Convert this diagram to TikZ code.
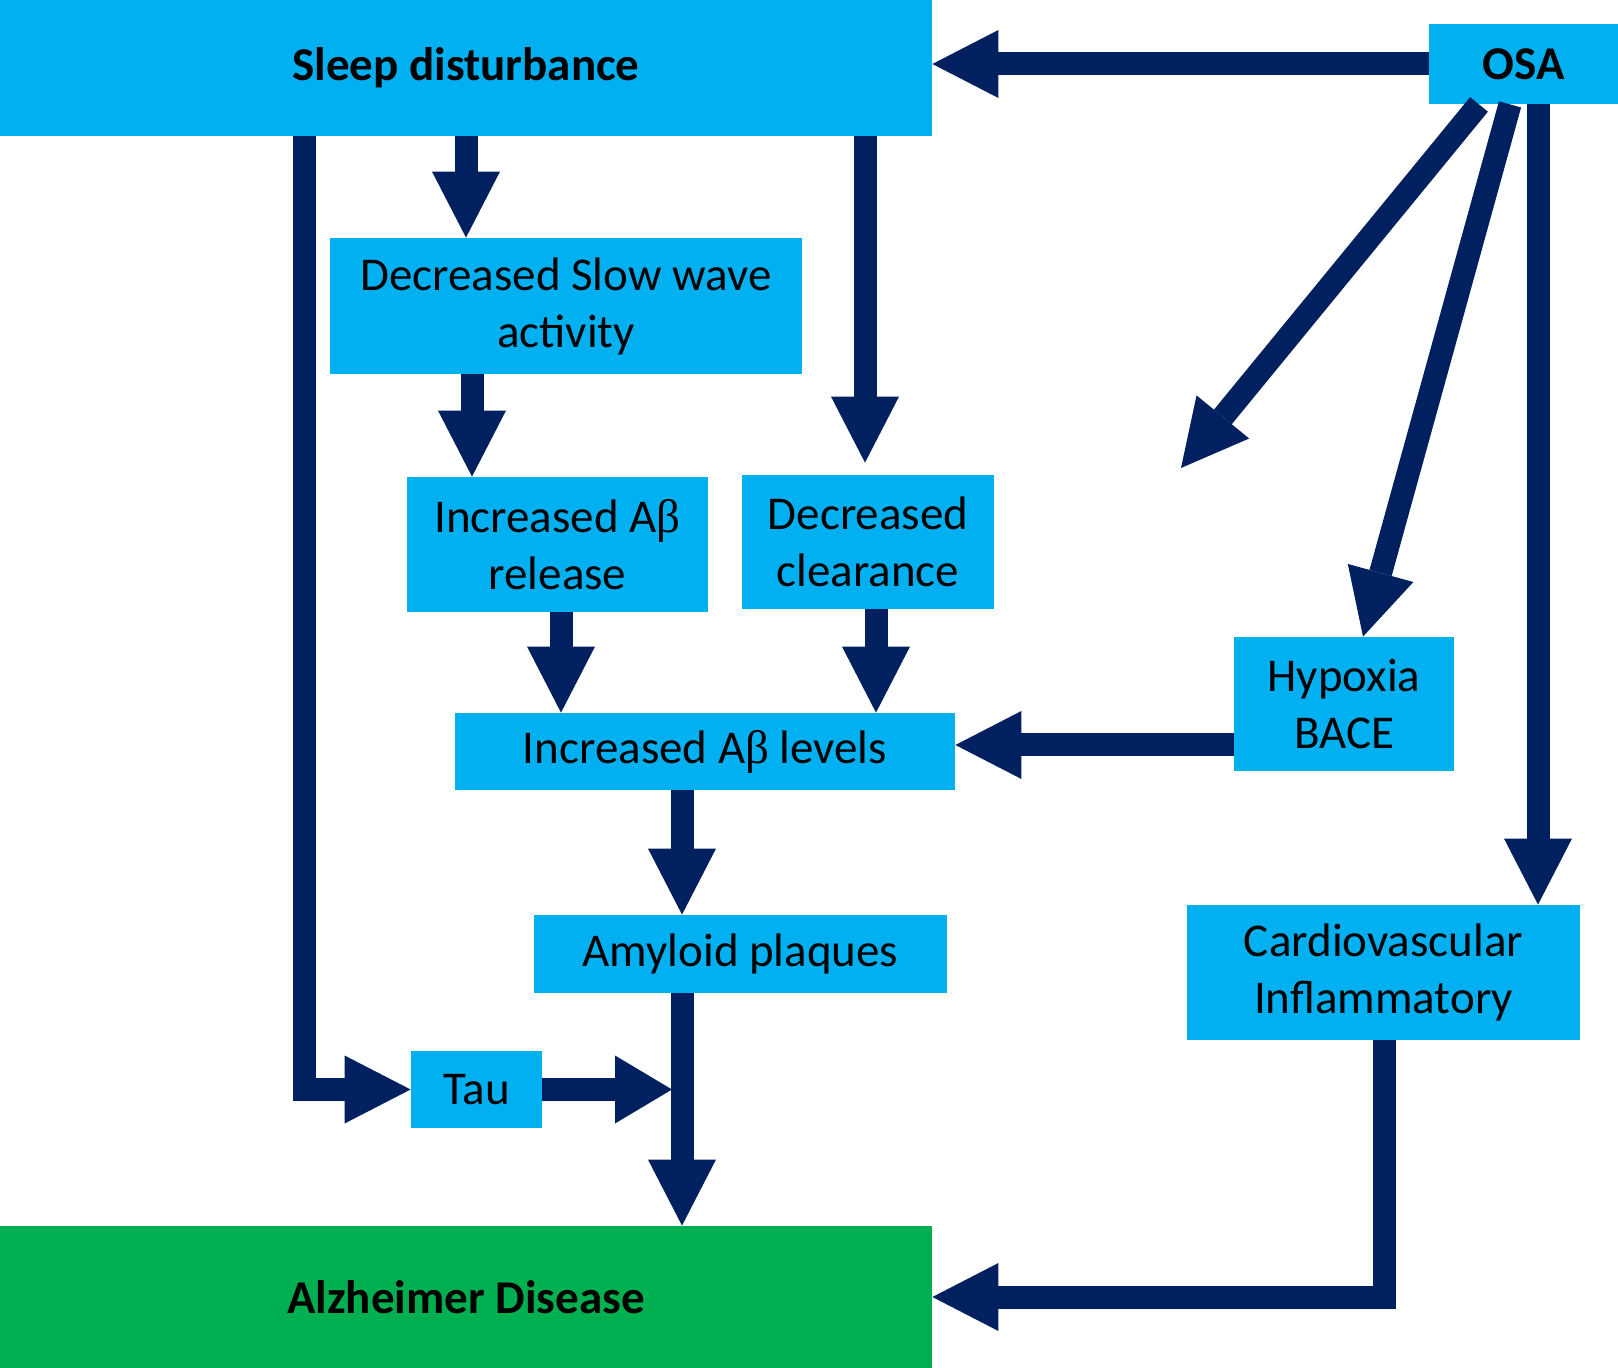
\documentclass[tikz,border=0pt]{standalone}
\usepackage{fontspec}
\setmainfont{Carlito}
\newfontfamily\grk{Liberation Serif}
\usetikzlibrary{arrows.meta}
\definecolor{boxblue}{HTML}{00B0F0}
\definecolor{adgreen}{HTML}{00B050}
\definecolor{navy}{HTML}{002060}
\newcommand{\Abeta}{A{\grk β}}
\begin{document}
\begin{tikzpicture}[x=0.5pt,y=-0.5pt,
  box/.style={fill=boxblue, draw=none, inner sep=0pt, align=center, text=black,
    font=\fontsize{23.5pt}{28.5pt}\selectfont},
  bbox/.style={box, font=\fontsize{23.5pt}{28.5pt}\selectfont\bfseries},
  conn/.style={draw=navy, line width=11.5pt, line join=miter,
    -{Triangle[length=33pt,width=34pt,line width=0pt]}},
  shortconn/.style={draw=navy, line width=11.5pt, line join=miter,
    -{Triangle[length=28.5pt,width=34pt,line width=0pt]}}
]
\useasboundingbox (0,0) rectangle (1618,1368);

% boxes
\node[bbox, minimum width=466pt, minimum height=68pt] (sleep) at (466,68) {Sleep disturbance};
\node[bbox, minimum width=94.5pt, minimum height=40pt] (osa) at (1523.5,64) {OSA};
\node[box, minimum width=236pt, minimum height=68pt] (sws) at (566,306) {Decreased Slow wave\\activity};
\node[box, minimum width=150.5pt, minimum height=67.5pt] (rel) at (557.5,544.5) {Increased \Abeta\\release};
\node[box, minimum width=126pt, minimum height=67pt] (clr) at (868,542) {Decreased\\clearance};
\node[box, minimum width=250pt, minimum height=38.5pt] (lev) at (705,751.5) {Increased \Abeta{} levels};
\node[box, minimum width=110pt, minimum height=67pt] (hyp) at (1344,704) {Hypoxia\\BACE};
\node[box, minimum width=206.5pt, minimum height=39pt] (amy) at (740.5,954) {Amyloid plaques};
\node[box, minimum width=196.5pt, minimum height=67.5pt] (cv) at (1383.5,972.5) {Cardiovascular\\Inflammatory};
\node[box, minimum width=65.5pt, minimum height=38.5pt] (tau) at (476.5,1089.5) {Tau};
\node[bbox, fill=adgreen, minimum width=466pt, minimum height=71pt] (ad) at (466,1297) {Alzheimer Disease};

% helper columns / rows
\coordinate (c304) at (304,0);
\coordinate (c472) at (472,0);
\coordinate (c561) at (561,0);
\coordinate (c682) at (682,0);
\coordinate (c865) at (865,0);
\coordinate (c876) at (876,0);
\coordinate (c1384) at (1384,0);
\coordinate (c1479) at (1479,0);
\coordinate (c1510) at (1510,0);
\coordinate (c1363) at (1363,0);
\coordinate (c1538) at (1538,0);
\coordinate (jn) at (672,0);
\coordinate (y745) at (0,745);
\coordinate (free) at (1181,468);

% connectors
\draw[conn] (osa.west) -- (sleep.east |- osa.west);
\draw[conn] (sleep.south) -- (sleep.south |- sws.north);
\draw[conn] (sws.south -| c472) -- (rel.north -| c472);
\draw[conn, shorten >=6pt] (sleep.south -| c865) -- (clr.north -| c865);
\draw[conn] (rel.south -| c561) -- (lev.north -| c561);
\draw[conn] (clr.south -| c876) -- (lev.north -| c876);
\draw[conn] (hyp.west |- y745) -- (lev.east |- y745);
\draw[conn] (lev.south -| c682) -- (amy.north -| c682);
\draw[conn] (amy.south -| c682) -- (ad.north -| c682);
\draw[conn] (sleep.south -| c304) |- (tau.west);
\draw[shortconn] (tau.east) -- (tau.east -| jn);
\draw[conn] (osa.south -| c1479) -- (free);
\draw[conn] (osa.south -| c1510) -- (hyp.north -| c1363);
\draw[conn] (osa.south -| c1538) -- (cv.north -| c1538);
\draw[conn] (cv.south -| c1384) |- (ad.east);
\end{tikzpicture}
\end{document}
